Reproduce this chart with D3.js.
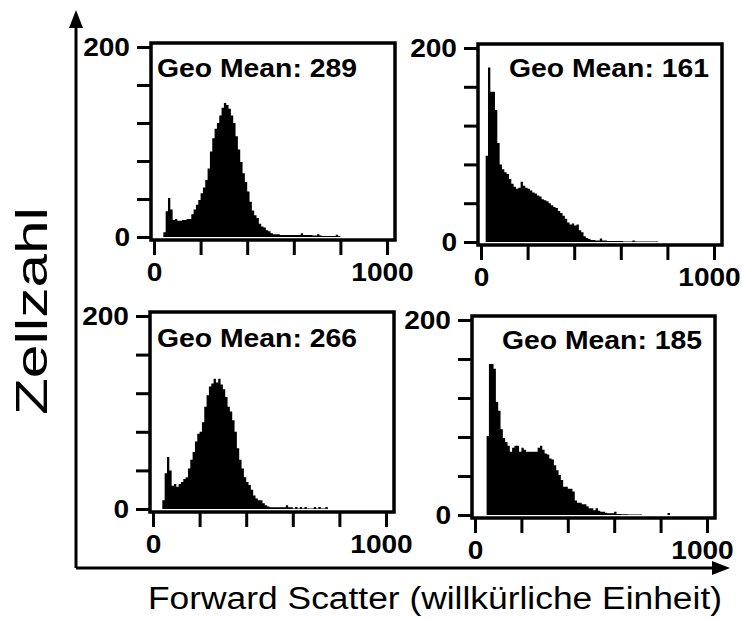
<!DOCTYPE html>
<html>
<head>
<meta charset="utf-8">
<script src="https://cdn.jsdelivr.net/npm/d3@7"></script>
<style>
  body { margin: 0; background: #fff; }
  svg { display: block; }
  text { font-family: "Liberation Sans", Arial, Helvetica, sans-serif; fill: #000; }
  .tick text { font-weight: bold; font-size: 26px; }
  .tick line { stroke: #000; stroke-width: 3; }
</style>
</head>
<body>
<script>

// SVG size
const w = 742;
const h = 619;

// Histogram counts, one value per channel bin (bin width 10)
const binWidth = 10;

const countsA = [0, 0, 0, 0, 5, 27, 41, 29, 18, 19,
    17, 17, 18, 18, 19, 19, 24, 29, 34, 39,
    46, 52, 60, 72, 90, 104, 114, 120, 128, 136,
    141, 139, 135, 128, 120, 106, 92, 79, 67, 58,
    48, 37, 28, 23, 20, 14, 11, 10, 7, 6,
    4, 3, 3, 3, 2, 2, 2, 2, 2, 2,
    2, 2, 2, 4, 2, 2, 2, 2, 1.5, 1.5,
    3, 1.5, 1, 1, 1, 1, 1, 1, 2.5, 1];

const countsB = [0, 0, 89, 180, 155, 155, 136, 102, 80, 75,
    72, 70, 65, 60, 57, 55, 56, 62, 58, 56,
    55, 53, 51, 50, 48, 47, 44, 43, 42, 40,
    38, 36, 35, 32, 30, 27, 24, 20, 18, 19,
    17, 18, 12, 10, 6, 4, 3, 2, 2, 1.5,
    1.5, 3.5, 1.5, 1.5, 1, 1, 1, 1, 1, 1,
    1, 0.5, 0.5, 0.5, 0.5, 1.5, 0.5, 0.5, 0.5, 0.5,
    0.5, 0.5, 0.5, 0.5, 0.5, 0.5];

const countsC = [0, 0, 0, 0, 9, 37, 54, 40, 24, 26,
    23, 26, 28, 31, 33, 42, 51, 59, 70, 78,
    80, 90, 106, 118, 127, 130, 135, 131, 135, 129,
    124, 116, 106, 101, 92, 80, 63, 51, 42, 33,
    28, 25, 20, 14, 11, 9, 9, 6, 4, 2.5,
    1.7, 1.7, 1.7, 1.7, 1.7, 1.7, 1.7, 4, 1.7, 1.7,
    0.5, 2, 0.5, 2, 0.5, 2, 0.5, 0.5, 0.5, 2,
    0.5, 2, 0.5, 0.5, 2];

const countsD = [0, 0, 0, 0, 0, 81, 155, 155, 150, 116,
    107, 88, 79, 75, 71, 65, 69, 71, 71, 65,
    69, 67, 65, 65, 65, 65, 65, 69, 71, 67,
    63, 62, 58, 57, 51, 46, 41, 36, 29, 29,
    27, 27, 24, 15, 12.6, 12.6, 11, 11, 9, 7,
    7, 5, 7, 4.4, 3.4, 3.4, 2.4, 1.7, 1.7, 1.7,
    3.4, 1, 1, 0.7, 0.7, 0.7, 0.5, 0.5, 0.5, 0.5,
    0.5, 0.5, 0, 0, 0, 0, 0, 0, 0, 0,
    0, 0, 0, 2];

const geoMeans = [289, 161, 266, 185];

// Axis ticks
const xDomain = [0, 1000];
const yDomain = [0, 200];
const xTicks = [0, 200, 400, 600, 800, 1000];
const yTicks = [0, 40, 80, 120, 160, 200];
const xLabelTicks = [0, 1000];
const yLabelTicks = [0, 200];

const xTitle = "Forward Scatter (willkürliche Einheit)";
const yTitle = "Zellzahl";

// Panel placement (pixel positions of value 0 / 1000 and 0 / 200)
const panels = [
    { counts: countsA, x0: 154, x1: 387, y0: 237, y200: 47, lx: 157, ly: 77, anchor: "start" },
    { counts: countsB, x0: 481, x1: 714, y0: 242, y200: 48, lx: 709, ly: 77, anchor: "end" },
    { counts: countsC, x0: 153, x1: 386, y0: 509, y200: 316, lx: 157, ly: 347, anchor: "start" },
    { counts: countsD, x0: 475, x1: 707, y0: 515, y200: 320, lx: 702, ly: 349, anchor: "end" }
];

// Create SVG
const svg = d3.select("body")
    .append("svg")
    .attr("width", w)
    .attr("height", h);

panels.forEach((p, i) => {

    const xScale = d3.scaleLinear().domain(xDomain).range([p.x0, p.x1]);
    const yScale = d3.scaleLinear().domain(yDomain).range([p.y0, p.y200]);

    // bins -> step points, closed with a zero at the end
    const pts = p.counts.map((v, k) => ({ x: k * binWidth, v: v }));
    pts.push({ x: p.counts.length * binWidth, v: 0 });

    const area = d3.area()
        .curve(d3.curveStepAfter)
        .x(d => xScale(d.x))
        .y0(yScale(0))
        .y1(d => yScale(d.v));

    svg.append("path")
        .datum(pts)
        .attr("fill", "#000")
        .attr("d", area);

    // Frame
    const left = p.x0 - 3, right = p.x1 + 8;
    const top = p.y200 - 4, bottom = p.y0 + 3;
    svg.append("rect")
        .attr("x", left)
        .attr("y", top)
        .attr("width", right - left)
        .attr("height", bottom - top)
        .attr("fill", "none")
        .attr("stroke", "#000")
        .attr("stroke-width", 3.5);

    // Left axis
    const leftAxis = d3.axisLeft(yScale)
        .tickValues(yTicks)
        .tickSize(14)
        .tickPadding(7)
        .tickFormat(d => yLabelTicks.includes(d) ? d : "");

    svg.append("g")
        .attr("class", "axis")
        .attr("transform", `translate(${left}, 0)`)
        .call(leftAxis)
        .call(g => g.select(".domain").remove());

    // Bottom axis
    const bottomAxis = d3.axisBottom(xScale)
        .tickValues(xTicks)
        .tickSize(15)
        .tickPadding(8)
        .tickFormat(d => xLabelTicks.includes(d) ? d : "");

    svg.append("g")
        .attr("class", "axis")
        .attr("transform", `translate(0, ${bottom})`)
        .call(bottomAxis)
        .call(g => g.select(".domain").remove())
        .call(g => g.selectAll(".tick text").filter(d => d === 1000).attr("dx", -5));

    // Geo mean label
    svg.append("text")
        .attr("x", p.lx)
        .attr("y", p.ly)
        .attr("text-anchor", p.anchor)
        .attr("font-size", 26)
        .attr("font-weight", "bold")
        .attr("textLength", 200)
        .attr("lengthAdjust", "spacingAndGlyphs")
        .text("Geo Mean: " + geoMeans[i]);
});

// tick labels are a bit wider in the original
svg.selectAll(".axis .tick text")
    .attr("font-family", null)
    .each(function () {
        const len = this.getComputedTextLength();
        if (len > 0) {
            d3.select(this)
                .attr("textLength", len * 1.08)
                .attr("lengthAdjust", "spacingAndGlyphs");
        }
    });

// Outer axes with arrows
const ox = 76, oy = 568;

svg.append("path")
    .attr("d", `M${ox},${oy} V26 M${ox},${oy} H714`)
    .attr("fill", "none")
    .attr("stroke", "#000")
    .attr("stroke-width", 3);

svg.append("path")
    .attr("d", `M${ox},10 L${ox - 7},28 L${ox + 7},28 Z`)
    .attr("fill", "#000");

svg.append("path")
    .attr("d", `M730,${oy} L712,${oy - 7} L712,${oy + 7} Z`)
    .attr("fill", "#000");

// X title
svg.append("text")
    .attr("x", 148)
    .attr("y", 609)
    .attr("font-size", 31)
    .attr("textLength", 574)
    .attr("lengthAdjust", "spacingAndGlyphs")
    .text(xTitle);

// Y title
svg.append("text")
    .attr("transform", "translate(47, 415) rotate(-90)")
    .attr("font-size", 44)
    .attr("textLength", 208)
    .attr("lengthAdjust", "spacingAndGlyphs")
    .text(yTitle);

</script>
</body>
</html>
